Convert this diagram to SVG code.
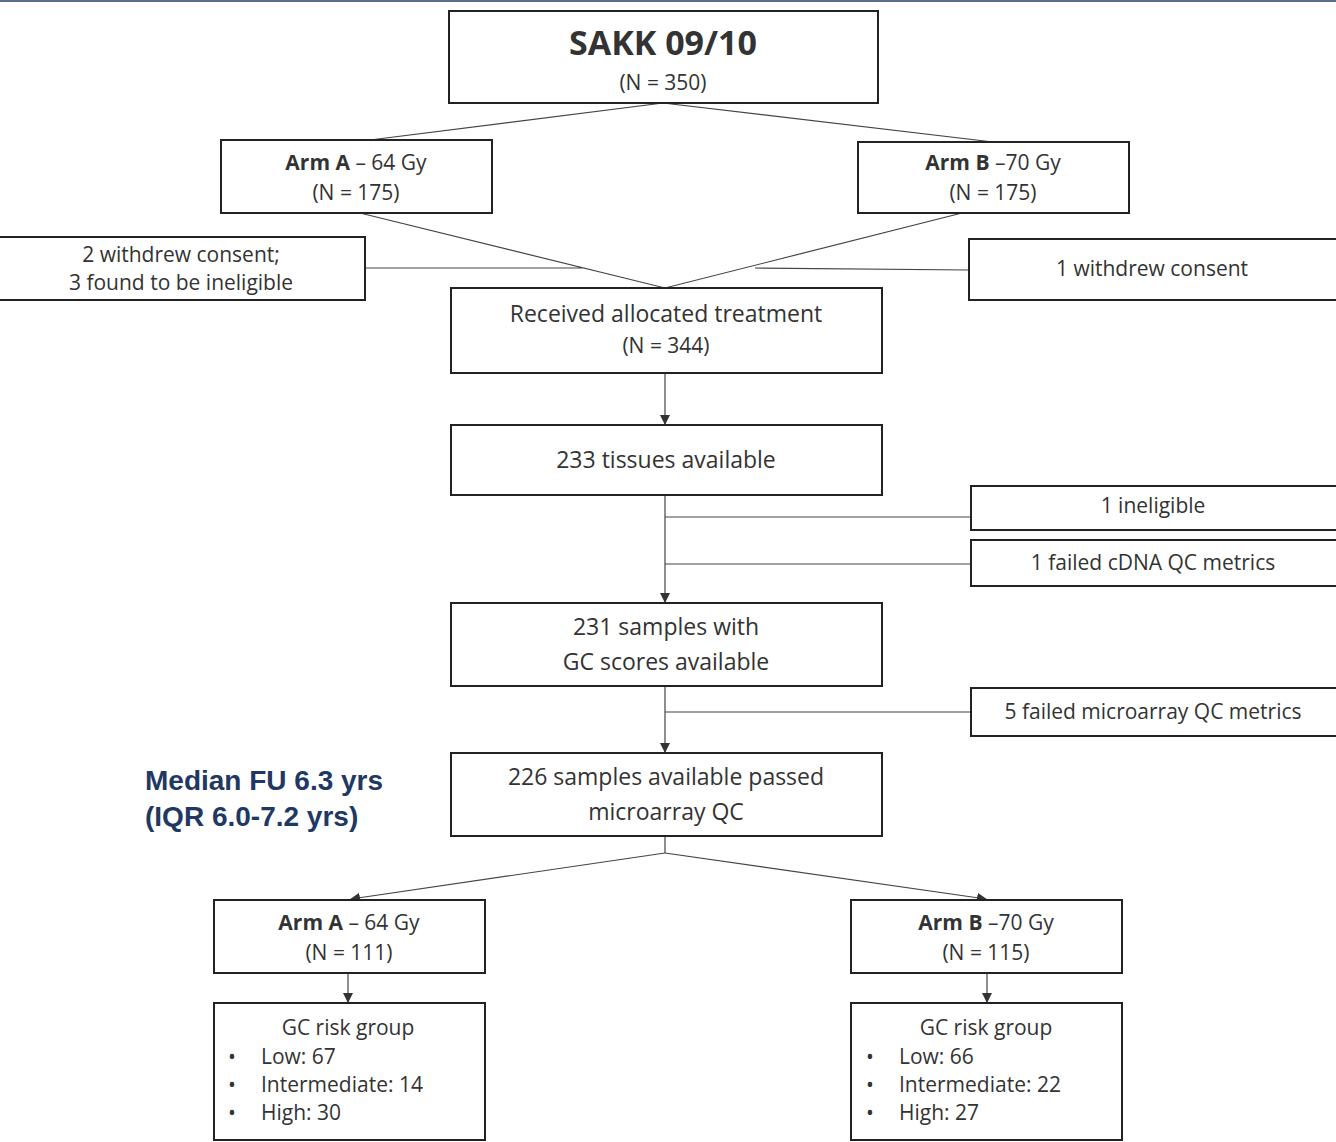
<svg xmlns="http://www.w3.org/2000/svg" width="1336" height="1142" viewBox="0 0 1336 1142">
<defs>
<marker id="ah" markerWidth="10" markerHeight="10" refX="9" refY="5" orient="auto" markerUnits="userSpaceOnUse"><path d="M0,0 L10,5 L0,10 z" fill="#333"/></marker>
<style>
.box{fill:#fff;stroke:#222;stroke-width:2}
.ln{stroke:#444;stroke-width:1.2;fill:none}
text{font-family:"Open Sans","Liberation Sans",sans-serif;font-size:21px;fill:#333}
.c{text-anchor:middle}
.b{font-weight:bold}
.med{font-family:"Liberation Sans",Arial,sans-serif;font-weight:bold;font-size:28px;fill:#1f3864}
</style>
</defs>
<rect width="1336" height="1142" fill="#fff"/>
<rect x="0" y="0" width="1336" height="2" fill="#5a6f8f"/>
<g id="connectors">
<path class="ln" d="M663,103 L370,140 M663,103 L993,142"/>
<path class="ln" d="M360,213 L665,288 L962,213 M365,268 L585,268 M969,270 L755,268"/>
<path class="ln" d="M665,373 L665,424" marker-end="url(#ah)"/>
<path class="ln" d="M665,495 L665,602" marker-end="url(#ah)"/>
<path class="ln" d="M665,517 L971,517 M665,564 L971,564 M665,712 L971,712"/>
<path class="ln" d="M665,686 L665,752" marker-end="url(#ah)"/>
<path class="ln" d="M665,836 L665,853"/>
<path class="ln" d="M665,853 L351,899" marker-end="url(#ah)"/>
<path class="ln" d="M665,853 L986,899" marker-end="url(#ah)"/>
<path class="ln" d="M348,973 L348,1002" marker-end="url(#ah)"/>
<path class="ln" d="M987,973 L987,1002" marker-end="url(#ah)"/>
</g>
<g id="sakk"><rect class="box" x="449" y="11" width="429" height="92"/><text class="c b" x="663" y="55" style="font-size:34px">SAKK 09/10</text><text class="c" x="663" y="90">(N = 350)</text></g>
<g id="armA1"><rect class="box" x="221" y="140" width="271" height="73"/><text class="c" x="356" y="170"><tspan class="b">Arm A</tspan> – 64 Gy</text><text class="c" x="356" y="200">(N = 175)</text></g>
<g id="armB1"><rect class="box" x="858" y="142" width="271" height="71"/><text class="c" x="993" y="170"><tspan class="b">Arm B</tspan> –70 Gy</text><text class="c" x="993" y="200">(N = 175)</text></g>
<g id="exclA"><rect class="box" x="-2" y="237" width="367" height="63"/><text class="c" x="181" y="262">2 withdrew consent;</text><text class="c" x="181" y="290">3 found to be ineligible</text></g>
<g id="exclB"><rect class="box" x="969" y="239" width="369" height="61"/><text class="c" x="1152" y="276">1 withdrew consent</text></g>
<g id="received"><rect class="box" x="451" y="288" width="431" height="85"/><text class="c" x="666" y="322" style="font-size:23px">Received allocated treatment</text><text class="c" x="666" y="353">(N = 344)</text></g>
<g id="tissues"><rect class="box" x="451" y="425" width="431" height="70"/><text class="c" x="666" y="468" style="font-size:23px">233 tissues available</text></g>
<g id="inel"><rect class="box" x="971" y="486" width="367" height="44"/><text class="c" x="1153" y="513">1 ineligible</text></g>
<g id="cdna"><rect class="box" x="971" y="540" width="367" height="46"/><text class="c" x="1153" y="570">1 failed cDNA QC metrics</text></g>
<g id="gc231"><rect class="box" x="451" y="603" width="431" height="83"/><text class="c" x="666" y="635" style="font-size:23px">231 samples with</text><text class="c" x="666" y="670" style="font-size:23px">GC scores available</text></g>
<g id="micro"><rect class="box" x="971" y="688" width="367" height="48"/><text class="c" x="1153" y="719">5 failed microarray QC metrics</text></g>
<g id="s226"><rect class="box" x="451" y="753" width="431" height="83"/><text class="c" x="666" y="785" style="font-size:23px">226 samples available passed</text><text class="c" x="666" y="820" style="font-size:23px">microarray QC</text></g>
<g id="fu"><text class="med" x="145" y="790">Median FU 6.3 yrs</text><text class="med" x="145" y="826">(IQR 6.0-7.2 yrs)</text></g>
<g id="armA2"><rect class="box" x="214" y="900" width="271" height="73"/><text class="c" x="349" y="930"><tspan class="b">Arm A</tspan> – 64 Gy</text><text class="c" x="349" y="960">(N = 111)</text></g>
<g id="armB2"><rect class="box" x="851" y="900" width="271" height="73"/><text class="c" x="986" y="930"><tspan class="b">Arm B</tspan> –70 Gy</text><text class="c" x="986" y="960">(N = 115)</text></g>
<g id="gcA"><rect class="box" x="214" y="1003" width="271" height="137"/><text class="c" x="348" y="1035">GC risk group</text><text x="228" y="1064">•</text><text x="261" y="1064">Low: 67</text><text x="228" y="1092">•</text><text x="261" y="1092">Intermediate: 14</text><text x="228" y="1120">•</text><text x="261" y="1120">High: 30</text></g>
<g id="gcB"><rect class="box" x="851" y="1003" width="271" height="137"/><text class="c" x="986" y="1035">GC risk group</text><text x="866" y="1064">•</text><text x="899" y="1064">Low: 66</text><text x="866" y="1092">•</text><text x="899" y="1092">Intermediate: 22</text><text x="866" y="1120">•</text><text x="899" y="1120">High: 27</text></g>
</svg>
